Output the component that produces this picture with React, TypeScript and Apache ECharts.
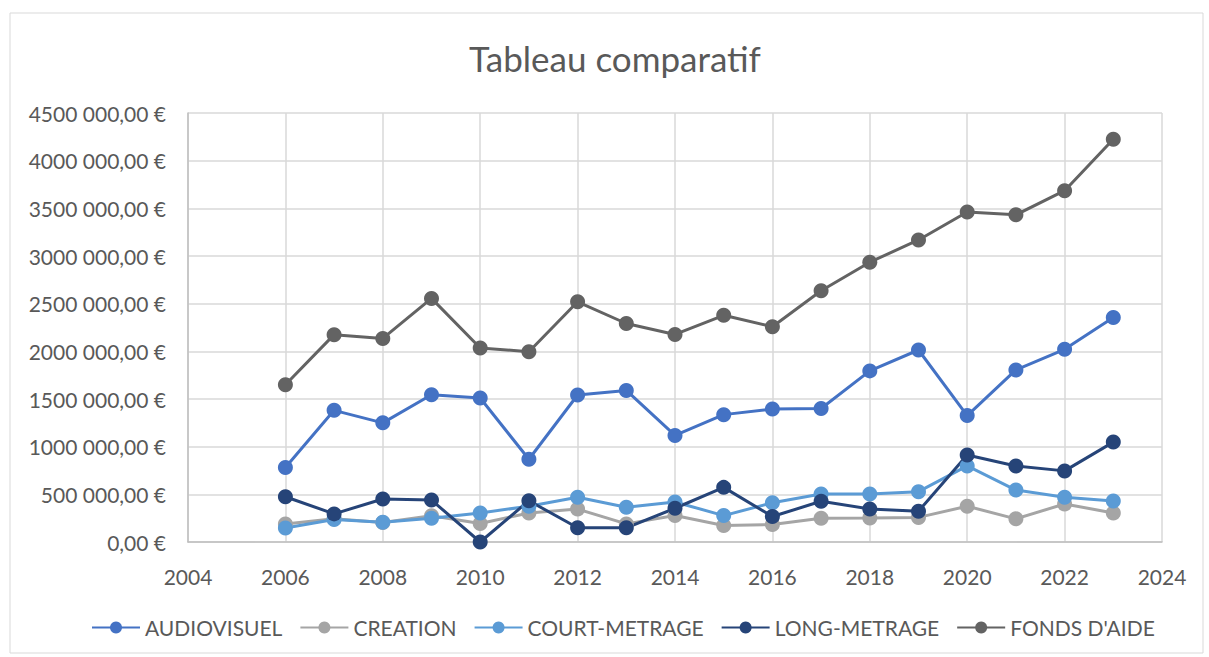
import React, { useEffect, useRef } from "react";
import * as echarts from "echarts";

const years = [2006, 2007, 2008, 2009, 2010, 2011, 2012, 2013, 2014, 2015, 2016, 2017, 2018, 2019, 2020, 2021, 2022, 2023];
const audiovisuel = [781000, 1381000, 1250000, 1545000, 1510000, 868000, 1542000, 1590000, 1118000, 1336000, 1396000, 1400000, 1795000, 2014000, 1326000, 1805000, 2021000, 2354000];
const creation = [190000, 245000, 205000, 275000, 195000, 305000, 345000, 190000, 277000, 173000, 184000, 250000, 252000, 258000, 375000, 243000, 399000, 305000];
const courtMetrage = [146000, 235000, 208000, 250000, 305000, 375000, 469000, 365000, 420000, 277000, 412000, 503000, 503000, 528000, 798000, 545000, 469000, 430000];
const longMetrage = [475000, 295000, 451000, 440000, 0, 433000, 149000, 149000, 354000, 573000, 267000, 427000, 347000, 323000, 913000, 798000, 746000, 1048000];
const fondsAide = [1650000, 2175000, 2135000, 2555000, 2035000, 1996000, 2520000, 2292000, 2177000, 2378000, 2258000, 2636000, 2935000, 3168000, 3462000, 3432000, 3685000, 4225000];

const seriesNames = ["AUDIOVISUEL", "CREATION", "COURT-METRAGE", "LONG-METRAGE", "FONDS D'AIDE"];
const seriesData = [audiovisuel, creation, courtMetrage, longMetrage, fondsAide];
const colors = ["#4472C4", "#A5A5A5", "#5B9BD5", "#264478", "#636363"];

const FONT = "Lato, sans-serif";

export default function App() {
  const ref = useRef<HTMLDivElement>(null);
  useEffect(() => {
    if (!ref.current) return;
    const chart = echarts.init(ref.current, undefined, { renderer: "svg" });
    chart.setOption({
      animation: false,
      backgroundColor: "#ffffff",
      textStyle: { fontFamily: FONT },
      graphic: [
        {
          type: "rect",
          shape: { x: 10, y: 13, width: 1193, height: 640 },
          style: { fill: "none", stroke: "#D9D9D9", lineWidth: 1 },
          silent: true,
        },
        {
          type: "text",
          x: 615,
          y: 58,
          style: {
            text: "Tableau comparatif",
            fontFamily: FONT,
            fontSize: 35,
            fill: "#595959",
            align: "center",
            verticalAlign: "middle",
          },
          silent: true,
        },
      ],
      legend: {
        bottom: 14,
        left: 86,
        itemWidth: 48,
        itemHeight: 15,
        itemGap: 17,
        textStyle: { fontFamily: FONT, fontSize: 21, color: "#595959" },
        data: seriesNames,
      },
      grid: { left: 188, right: 47, top: 113, bottom: 115 },
      xAxis: {
        type: "value",
        min: 2004,
        max: 2024,
        interval: 2,
        axisLine: { show: true, lineStyle: { color: "#BFBFBF", width: 1.5 } },
        axisTick: { show: false },
        axisLabel: {
          fontFamily: FONT,
          fontSize: 21,
          color: "#595959",
          margin: 24,
          formatter: (v: number) => String(v),
        },
        splitLine: { show: true, lineStyle: { color: "#D9D9D9", width: 1.5 } },
      },
      yAxis: {
        type: "value",
        min: 0,
        max: 4500000,
        interval: 500000,
        axisLine: { show: true, lineStyle: { color: "#BFBFBF", width: 1.5 } },
        axisTick: { show: false },
        axisLabel: {
          fontFamily: FONT,
          fontSize: 21,
          color: "#595959",
          margin: 22,
          formatter: (v: number) => (v === 0 ? "0,00 €" : `${v / 1000} 000,00 €`),
        },
        splitLine: { show: true, lineStyle: { color: "#D9D9D9", width: 1.5 } },
      },
      series: seriesNames.map((name, i) => ({
        name,
        type: "line",
        data: years.map((y, j) => [y, seriesData[i][j]]),
        symbol: "circle",
        symbolSize: 15,
        showAllSymbol: true,
        lineStyle: { color: colors[i], width: 3 },
        itemStyle: { color: colors[i] },
      })),
    });
    return () => chart.dispose();
  }, []);
  return (
    <div
      ref={ref}
      style={{ position: "fixed", left: 0, top: 0, width: 1209, height: 657 }}
    />
  );
}
